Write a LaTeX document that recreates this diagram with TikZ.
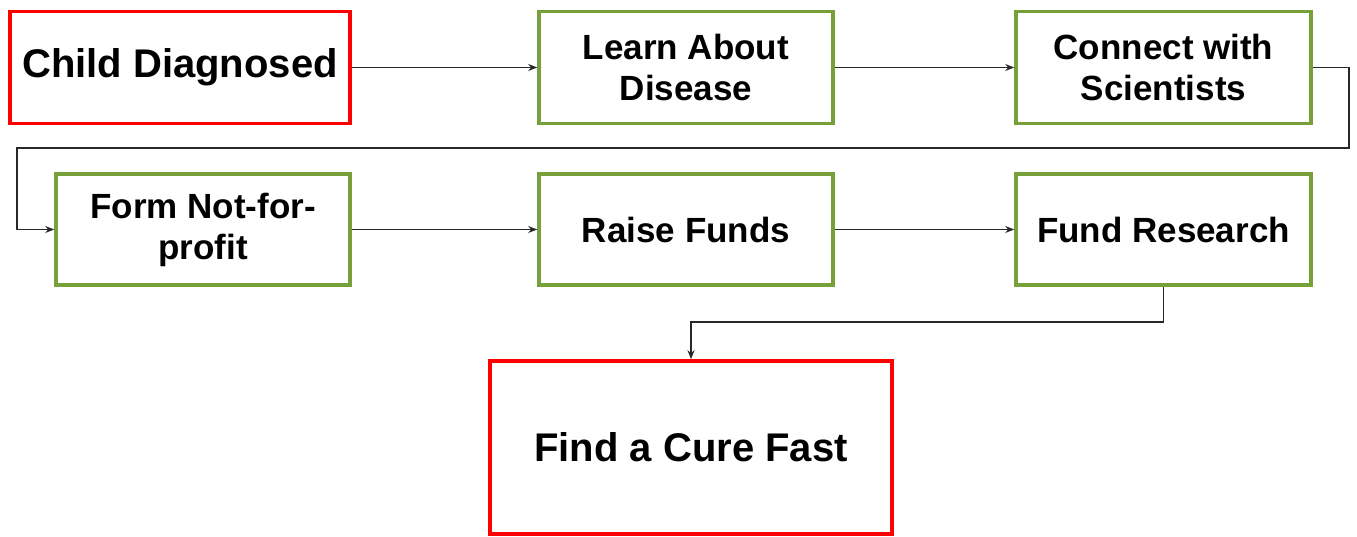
\documentclass[tikz,border=0pt]{standalone}
\usepackage{fontspec}
\setmainfont{Liberation Sans}
\usetikzlibrary{arrows.meta}
\definecolor{boxgreen}{RGB}{119,160,58}
\definecolor{boxred}{RGB}{255,0,0}
\definecolor{linegray}{RGB}{40,40,40}
\begin{document}
\begin{tikzpicture}[x=1pt,y=-1pt,
  box/.style={draw, line width=3.6pt, rectangle, align=center, inner sep=0pt,
    font=\fontsize{35}{41}\selectfont\bfseries},
  greenbox/.style={box, draw=boxgreen},
  redbox/.style={box, draw=boxred, font=\fontsize{40}{46}\selectfont\bfseries},
  conn/.style={draw=linegray, line width=1.5pt, -{Stealth[length=9pt,width=7pt]}}]
\useasboundingbox (0,0) rectangle (1357,537);
\node[redbox, minimum width=340pt, minimum height=112pt] (child) at (180,67.5) {Child Diagnosed};
\node[greenbox, minimum width=294pt, minimum height=112pt] (learn) at (686,67.5) {Learn About\\Disease};
\node[greenbox, minimum width=295pt, minimum height=112pt] (connect) at (1163.5,67.5) {Connect with\\Scientists};
\node[greenbox, minimum width=294pt, minimum height=111pt] (form) at (203,229.5) {Form Not-for-\\profit};
\node[greenbox, minimum width=294pt, minimum height=111pt] (raise) at (686,229.5) {Raise Funds};
\node[greenbox, minimum width=295pt, minimum height=111pt] (fund) at (1163.5,229.5) {Fund Research};
\node[redbox, minimum width=402pt, minimum height=173pt] (cure) at (691,447.5) {Find a Cure Fast};
\coordinate (loopB) at (1349,148);
\coordinate (loopC) at (17,148);
\coordinate (downA) at (1163.5,322);
\draw[conn] (child.east) -- (learn.west);
\draw[conn] (learn.east) -- (connect.west);
\draw[conn] (connect.east) -| (loopB) -- (loopC) |- (form.west);
\draw[conn] (form.east) -- (raise.west);
\draw[conn] (raise.east) -- (fund.west);
\draw[conn] (fund.south) -- (downA) -| (cure.north);
\end{tikzpicture}
\end{document}
